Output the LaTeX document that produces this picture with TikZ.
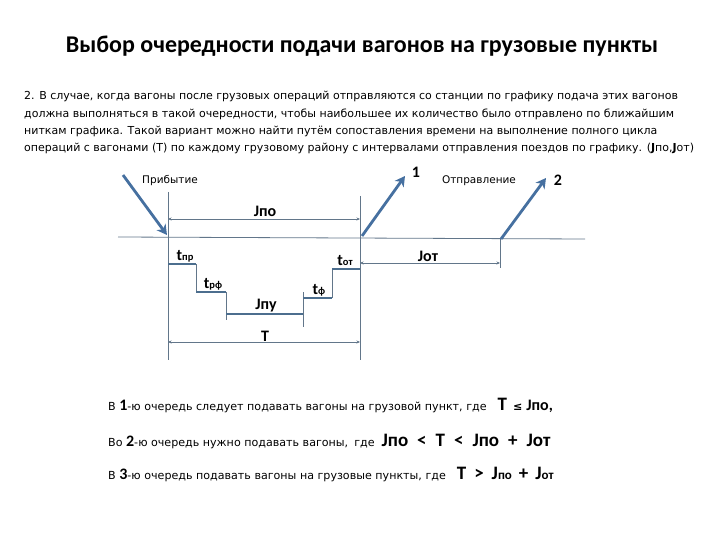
\documentclass[tikz,border=0pt]{standalone}
\usepackage{fontspec}
\setmainfont{DejaVu Sans}
\newfontfamily\headfont{Carlito}
\usepackage{xcolor}
\usetikzlibrary{arrows.meta, positioning}
\definecolor{trackgray}{RGB}{98,118,138}
\definecolor{arrowblue}{RGB}{70,112,160}
\definecolor{barblue}{RGB}{76,110,142}
\tikzset{
    >=Stealth,
    thinline/.style={draw=trackgray, line width=0.8pt},
    dimline/.style={thinline, {Stealth[length=3.5pt,width=3pt]}-{Stealth[length=3.5pt,width=3pt]}},
    bigarrow/.style={draw=arrowblue, line width=2.8pt, -{Stealth[length=10pt,width=11pt,inset=3pt]}},
    bar/.style={draw=barblue, line width=2.6pt},
    lbl/.style={font=\headfont\bfseries\fontsize{16}{16}\selectfont, inner sep=1pt},
    caption/.style={font=\fontsize{10.5}{12}\selectfont, inner sep=1pt},
    rule/.style={anchor=base west, inner sep=0pt, font=\fontsize{11.1}{12}\selectfont},
}
\newcommand{\tsub}[1]{t{\fontsize{10.5}{10}\selectfont #1}}
\newcommand{\bigb}[1]{{\headfont\bfseries\fontsize{19}{19}\selectfont #1}}
\newcommand{\numb}[1]{{\headfont\bfseries\fontsize{16}{16}\selectfont #1}}

\begin{document}
\begin{tikzpicture}[x=1pt, y=-1pt]
    \useasboundingbox (0,0) rectangle (720,540);

    % heading and text
    \node[font=\headfont\bfseries\fontsize{24}{28}\selectfont, anchor=base] (title) at (362,53)
        {Выбор очередности подачи вагонов на грузовые пункты};
    \node[anchor=base west, align=left, inner sep=0pt, font=\fontsize{11}{17.2}\selectfont] (intro) at (24,151.6)
        {2. В случае, когда вагоны после грузовых операций отправляются со станции по графику подача этих вагонов\\
         должна выполняться в такой очередности, чтобы наибольшее их количество было отправлено по ближайшим\\
         ниткам графика. Такой вариант можно найти путём сопоставления времени на выполнение полного цикла\\
         операций с вагонами (T) по каждому грузовому району с интервалами отправления поездов по графику. (\textbf{J}по,\textbf{J}от)};

    % track and moments
    \coordinate (west)  at (118,237);
    \coordinate (east)  at (585,239);
    \coordinate (arr)   at (168,237);
    \coordinate (dep1)  at (360,238);
    \coordinate (dep2)  at (500,239);
    \draw[thinline] (west) -- (east);
    \draw[thinline] (168,192) -- (168,360);
    \draw[thinline] (360,196) -- (360,360);
    \draw[thinline] (dep2) -- (500,268);

    \node[caption] (arrlabel) at (170,181) {Прибытие};
    \node[caption] (deplabel) at (479,181) {Отправление};
    \node[lbl] (one) at (416,172) {1};
    \node[lbl] (two) at (558,180) {2};

    \coordinate (arrfrom) at (123,175);
    \coordinate (onetip)  at (405,176);
    \coordinate (twotip)  at (546,178);
    \draw[bigarrow] (arrfrom) -- (167,235);
    \draw[bigarrow] (362,236) -- (onetip);
    \draw[bigarrow] (501,239) -- (twotip);

    % intervals
    \draw[dimline] (168,219) -- (360,219);
    \node[lbl] (jpo) at (265,211) {Jпо};
    \draw[dimline] (360,263) -- (500,263);
    \node[lbl] (jot) at (428,256) {Jот};
    \draw[dimline] (168,342) -- (360,342);
    \node[lbl] (tt) at (265,336) {T};

    % operations
    \draw[bar] (168,264) -- (196,264);
    \draw[thinline] (196,264) -- (196,292);
    \draw[bar] (196,292) -- (226,292);
    \draw[thinline] (226,292) -- (226,320);
    \draw[bar] (226,314) -- (303,314);
    \draw[thinline] (303,292) -- (303,327);
    \draw[bar] (303,298) -- (332,298);
    \draw[thinline] (332,269) -- (332,298);
    \draw[bar] (332,269) -- (360,269);

    \node[lbl] (tpr) at (185,256) {\tsub{пр}};
    \node[lbl] (trf) at (213,284) {\tsub{рф}};
    \node[lbl] (jpu) at (266,306) {Jпу};
    \node[lbl] (tf)  at (319,290) {\tsub{ф}};
    \node[lbl] (tot) at (345,261) {\tsub{от}};

    % conditions
    \node[rule] (first) at (108,410)
        {В \numb{1}-ю очередь следует подавать вагоны на грузовой пункт, где\hspace{11pt}\bigb{T}\hspace{6pt}{\bfseries ≤}\hspace{4pt}{\headfont\bfseries\fontsize{16}{16}\selectfont Jпо,}};
    \node[rule] (second) at (108,446)
        {Во \numb{2}-ю очередь нужно подавать вагоны,\hspace{6pt}где\hspace{7pt}\bigb{Jпо\hspace{9pt}<\hspace{9pt}T\hspace{9pt}<\hspace{9pt}Jпо\hspace{9pt}+\hspace{9pt}Jот}};
    \node[rule] (third) at (108,479)
        {В \numb{3}-ю очередь подавать вагоны на грузовые пункты, где\hspace{11pt}\bigb{T\hspace{8pt}>\hspace{8pt}J{\fontsize{13}{13}\selectfont по}\hspace{7pt}+\hspace{7pt}J{\fontsize{13}{13}\selectfont от}}};
\end{tikzpicture}
\end{document}
